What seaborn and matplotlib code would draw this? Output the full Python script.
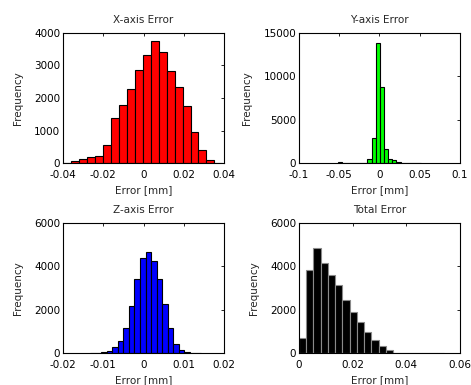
import numpy as np
import pandas as pd
import matplotlib
matplotlib.use("Agg")
import matplotlib.pyplot as plt
import seaborn as sns

# %% values (20 bins each)
x_counts = [10, 70, 120, 185, 215, 545, 1385, 1795, 2275, 2860,
            3320, 3745, 3415, 2830, 2330, 1745, 955, 390, 90, 10]
x_range = (-0.04, 0.0392)

y_counts = [60, 5, 10, 15, 20, 25, 40, 460, 2855, 13860,
            8720, 1600, 460, 300, 60, 30, 20, 15, 10, 8]
y_range = (-0.0512, 0.0521)

z_counts = [8, 12, 30, 75, 275, 560, 1170, 2160, 3410, 4400,
            4660, 4260, 3410, 2270, 1140, 400, 140, 60, 15, 8]
z_range = (-0.0132, 0.0142)

t_counts = [670, 3810, 4860, 4170, 3590, 3150, 2440, 1900, 1420, 990,
            590, 335, 150, 20, 5, 3, 2, 1, 1, 1]
t_range = (0.0, 0.054)

titles = ["X-axis Error", "Y-axis Error", "Z-axis Error", "Total Error"]
xlims = [(-0.04, 0.04), (-0.1, 0.1), (-0.02, 0.02), (0, 0.06)]
xticks = [[-0.04, -0.02, 0, 0.02, 0.04],
          [-0.1, -0.05, 0, 0.05, 0.1],
          [-0.02, -0.01, 0, 0.01, 0.02],
          [0, 0.02, 0.04, 0.06]]
xticklabels = [["-0.04", "-0.02", "0", "0.02", "0.04"],
               ["-0.1", "-0.05", "0", "0.05", "0.1"],
               ["-0.02", "-0.01", "0", "0.01", "0.02"],
               ["0", "0.02", "0.04", "0.06"]]
ylims = [4000, 15000, 6000, 6000]
yticks = [[0, 1000, 2000, 3000, 4000],
          [0, 5000, 10000, 15000],
          [0, 2000, 4000, 6000],
          [0, 2000, 4000, 6000]]
face_colors = ["#ff0000", "#00ff00", "#0000ff", "#000000"]
edge_colors = ["#000000", "#000000", "#000000", "#8a8a8a"]

# %% style
sns.set_style("white")
plt.rcParams["font.family"] = ["DejaVu Sans"]
plt.rcParams["font.size"] = 7.5
plt.rcParams["xtick.direction"] = "in"
plt.rcParams["ytick.direction"] = "in"
plt.rcParams["xtick.top"] = True
plt.rcParams["ytick.right"] = True
plt.rcParams["xtick.major.size"] = 2.5
plt.rcParams["ytick.major.size"] = 2.5
plt.rcParams["xtick.major.width"] = 0.6
plt.rcParams["ytick.major.width"] = 0.6
plt.rcParams["xtick.color"] = "black"
plt.rcParams["ytick.color"] = "black"

fig = plt.figure(figsize=(4.71, 3.85), dpi=100)
positions = [[0.1338, 0.5766, 0.3418, 0.3377],
             [0.6348, 0.5766, 0.3418, 0.3377],
             [0.1338, 0.0831, 0.3418, 0.3377],
             [0.6348, 0.0831, 0.3418, 0.3377]]

all_counts = [x_counts, y_counts, z_counts, t_counts]
all_ranges = [x_range, y_range, z_range, t_range]

for i in range(4):
    ax = fig.add_axes(positions[i])
    counts = all_counts[i]
    edges = np.linspace(all_ranges[i][0], all_ranges[i][1], len(counts) + 1)
    df = pd.DataFrame({"center": (edges[:-1] + edges[1:]) / 2,
                       "count": counts})
    sns.histplot(data=df, x="center", weights="count", bins=list(edges),
                 ax=ax, color=face_colors[i], edgecolor=edge_colors[i],
                 linewidth=0.8, alpha=1)
    ax.set_xlim(*xlims[i])
    ax.set_ylim(0, ylims[i])
    ax.set_xticks(xticks[i])
    ax.set_xticklabels(xticklabels[i])
    ax.set_yticks(yticks[i])
    ax.set_yticklabels([str(v) for v in yticks[i]])
    ax.tick_params(axis="x", labelsize=7.5, pad=5)
    ax.tick_params(axis="y", labelsize=7.5, pad=2)
    ax.set_title(titles[i], fontsize=7.5, pad=7)
    ax.set_xlabel("Error [mm]", fontsize=7.5, labelpad=4)
    ax.set_ylabel("Frequency", fontsize=7.5, labelpad=8)
    for s in ax.spines.values():
        s.set_color("black")
        s.set_linewidth(0.8)

fig.savefig("out.png", dpi=100)
